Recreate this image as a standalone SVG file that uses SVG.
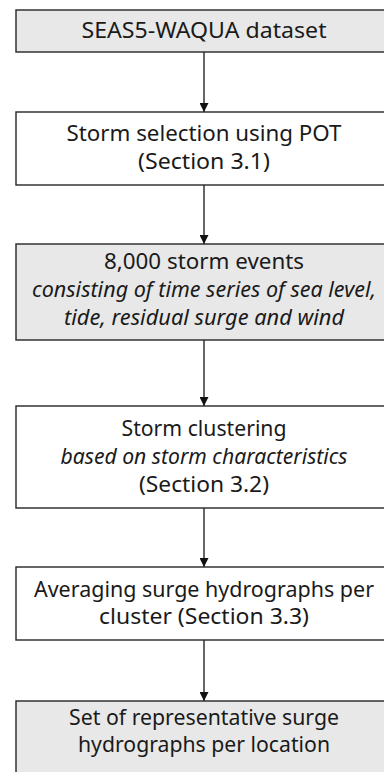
<svg xmlns="http://www.w3.org/2000/svg" width="384" height="772" viewBox="0 0 384 772">
<defs>
<style>
.box{stroke:#262626;stroke-width:1.4}
.g{fill:#e8e8e8}
.w{fill:#ffffff}
text{font-family:"Noto Sans","Open Sans",sans-serif;font-size:21px;fill:#1a1a1a;text-anchor:middle}
.i{font-style:italic}
.c{stroke:#262626;stroke-width:1.4;fill:none}
</style>
<marker id="ah" markerWidth="10" markerHeight="9" refX="9" refY="4.5" orient="auto" markerUnits="userSpaceOnUse">
<path d="M0,0 L9,4.5 L0,9 Z" fill="#111"/>
</marker>
</defs>
<rect width="384" height="772" fill="#ffffff"/>
<g id="connectors">
<line class="c" x1="204" y1="52" x2="204" y2="112" marker-end="url(#ah)"/>
<line class="c" x1="204" y1="185" x2="204" y2="244" marker-end="url(#ah)"/>
<line class="c" x1="204" y1="340" x2="204" y2="406" marker-end="url(#ah)"/>
<line class="c" x1="204" y1="508" x2="204" y2="567" marker-end="url(#ah)"/>
<line class="c" x1="204" y1="640" x2="204" y2="701" marker-end="url(#ah)"/>
</g>
<g id="n1">
<rect class="box g" x="16" y="10" width="376" height="42"/>
<text x="204" y="38" textLength="245" lengthAdjust="spacingAndGlyphs">SEAS5-WAQUA dataset</text>
</g>
<g id="n2">
<rect class="box w" x="16" y="112" width="376" height="73"/>
<text x="204" y="141" textLength="275" lengthAdjust="spacingAndGlyphs">Storm selection using POT</text>
<text x="204" y="169" textLength="132" lengthAdjust="spacingAndGlyphs">(Section 3.1)</text>
</g>
<g id="n3">
<rect class="box g" x="16" y="244" width="376" height="96"/>
<text x="204" y="269" textLength="200" lengthAdjust="spacingAndGlyphs">8,000 storm events</text>
<text class="i" x="204" y="297" textLength="344" lengthAdjust="spacingAndGlyphs">consisting of time series of sea level,</text>
<text class="i" x="204" y="325" textLength="280" lengthAdjust="spacingAndGlyphs">tide, residual surge and wind</text>
</g>
<g id="n4">
<rect class="box w" x="16" y="406" width="376" height="102"/>
<text x="204" y="436" textLength="165" lengthAdjust="spacingAndGlyphs">Storm clustering</text>
<text class="i" x="204" y="464" textLength="287" lengthAdjust="spacingAndGlyphs">based on storm characteristics</text>
<text x="204" y="492" textLength="130" lengthAdjust="spacingAndGlyphs">(Section 3.2)</text>
</g>
<g id="n5">
<rect class="box w" x="16" y="567" width="376" height="73"/>
<text x="204" y="597" textLength="340" lengthAdjust="spacingAndGlyphs">Averaging surge hydrographs per</text>
<text x="204" y="624" textLength="210" lengthAdjust="spacingAndGlyphs">cluster (Section 3.3)</text>
</g>
<g id="n6">
<rect class="box g" x="16" y="701" width="376" height="90"/>
<text x="204" y="725" textLength="270" lengthAdjust="spacingAndGlyphs">Set of representative surge</text>
<text x="204" y="752" textLength="252" lengthAdjust="spacingAndGlyphs">hydrographs per location</text>
</g>
</svg>
